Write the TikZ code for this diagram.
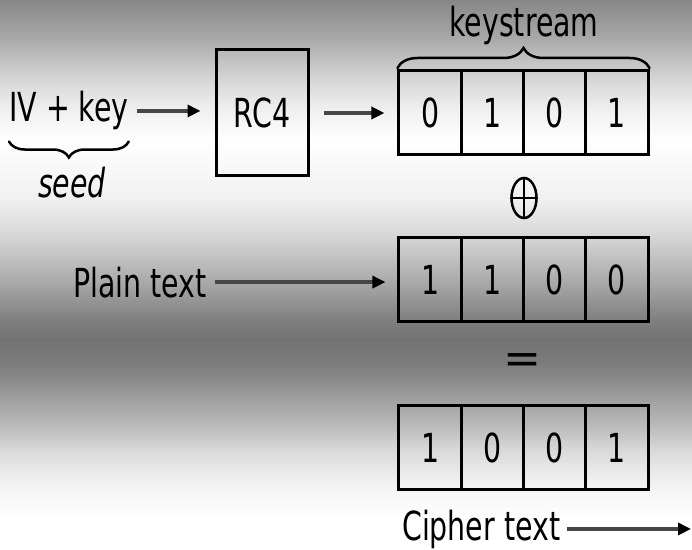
\documentclass[tikz,border=0pt]{standalone}
\usepackage{fontspec}
\setmainfont[FakeStretch=0.71]{DejaVu Sans}
\usetikzlibrary{arrows.meta,decorations.pathreplacing,shapes.geometric}

% banded grey backdrop, positions measured from the bottom edge
\pgfdeclareverticalshading{bands}{692bp}{%
  color(0bp)=(white); color(30bp)=(white); color(60bp)=(black!4);
  color(80bp)=(black!9); color(100bp)=(black!15); color(120bp)=(black!25);
  color(150bp)=(black!37); color(170bp)=(black!46); color(190bp)=(black!52);
  color(210bp)=(black!55); color(230bp)=(black!50); color(260bp)=(black!37);
  color(290bp)=(black!25); color(320bp)=(black!14); color(350bp)=(black!6);
  color(410bp)=(white); color(440bp)=(black!6); color(465bp)=(black!14);
  color(485bp)=(black!22); color(510bp)=(black!33); color(550bp)=(black!47)}

\begin{document}
\begin{tikzpicture}[x=1bp, y=-1bp,
  txt/.style={inner sep=0, font=\fontsize{40bp}{48bp}\selectfont},
  cell/.style={txt, draw=black, line width=3bp, minimum width=62.25bp, minimum height=84bp},
  conn/.style={draw=black!72, line width=3.5bp,
    -{Triangle[length=13bp, width=12bp, color=black]}},
  curly/.style={draw=black, line width=2.5bp, line cap=round,
    decorate, decoration={brace, amplitude=#1}}]

\useasboundingbox (0,0) rectangle (692,550);
\node[inner sep=0, anchor=south west] (bg) at (0,550) {\pgfuseshading{bands}};

% seed and generator
\node[txt, anchor=base west] (iv) at (9,122) {IV + key};
\node[txt, anchor=base, font=\fontsize{40bp}{48bp}\selectfont\itshape] (seed) at (72,198) {seed};
\node[txt, draw=black, line width=3bp, minimum width=92bp, minimum height=126bp] (rc4) at (262,113) {RC4};

% keystream bits
\node[txt, anchor=base] (ks) at (524,37) {keystream};
\node[cell] (k1) at (430.1,113) {0};
\node[cell] (k2) at (492.4,113) {1};
\node[cell] (k3) at (554.6,113) {0};
\node[cell] (k4) at (616.9,113) {1};

% exclusive-or sign
\node[ellipse, draw=black, line width=2.5bp, inner sep=0,
      minimum width=25bp, minimum height=40bp] (xor) at (524,198) {};
\draw[black, line width=2.5bp] (xor.north) -- (xor.south) (xor.west) -- (xor.east);

% plain text bits
\node[txt, anchor=base east] (plain) at (207,297) {Plain text};
\node[cell] (p1) at (430.1,279.5) {1};
\node[cell] (p2) at (492.4,279.5) {1};
\node[cell] (p3) at (554.6,279.5) {0};
\node[cell] (p4) at (616.9,279.5) {0};

\node[txt] (eq) at (523,364) {\scalebox{1.6}[1.1]{=}};

% cipher text bits
\node[cell] (c1) at (430.1,447.5) {1};
\node[cell] (c2) at (492.4,447.5) {0};
\node[cell] (c3) at (554.6,447.5) {0};
\node[cell] (c4) at (616.9,447.5) {1};
\node[txt, anchor=base west] (cipher) at (402,540) {Cipher text};
\coordinate (out) at (691,530);

% braces
\draw[curly=16bp] ([yshift=-11bp]iv.south east) -- ([yshift=-11bp]iv.south west);
\draw[curly=20bp] ([yshift=1.5bp]k1.north west) -- ([yshift=1.5bp]k4.north east);

% flow
\draw[conn, shorten <=8bp, shorten >=14bp] (iv.east) -- (iv.east -| rc4.west);
\draw[conn, shorten <=14bp, shorten >=13bp] (rc4.east) -- (k1.west);
\draw[conn, shorten <=8bp, shorten >=12bp] (plain.east) -- (plain.east -| p1.west);
\draw[conn, shorten <=7bp] (cipher.east) -- (cipher.east -| out);
\end{tikzpicture}
\end{document}
